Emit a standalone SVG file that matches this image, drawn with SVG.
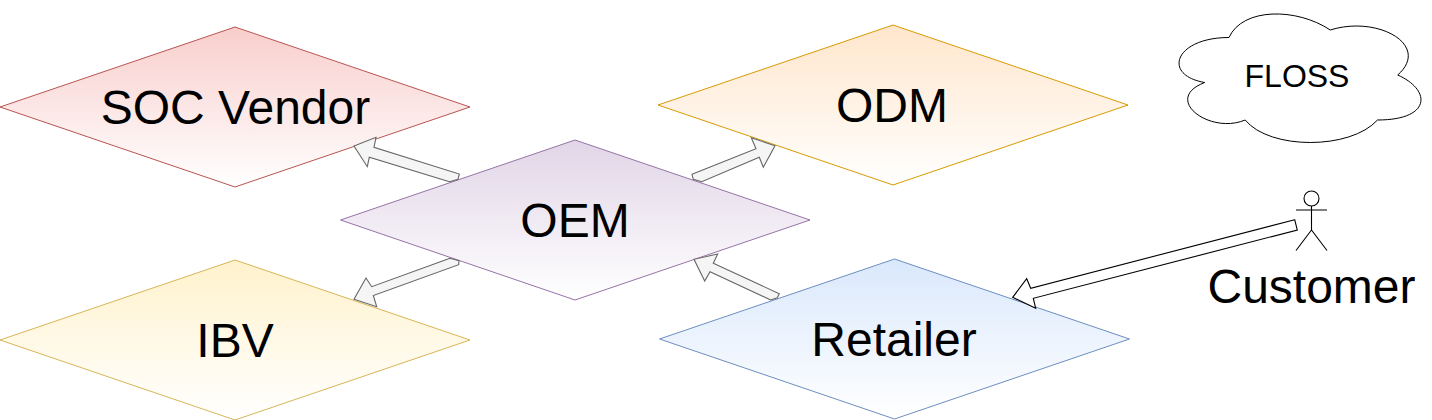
<svg xmlns="http://www.w3.org/2000/svg" width="1432" height="420" viewBox="0 0 1432 420">
<style>
text{font-family:"Liberation Sans",Arial,sans-serif;fill:#000;text-anchor:middle}
.big{font-size:48px}
.small{font-size:32px}
.node{stroke-width:1}
.arrow{fill:#f5f5f5;stroke:#666;stroke-width:1.1;stroke-linejoin:miter}
.arrowb{fill:#fff;stroke:#000;stroke-width:1.1;stroke-linejoin:miter}
.line{fill:none;stroke:#000;stroke-width:1.1}
</style>
<defs>
<linearGradient id="gr" x1="0" y1="0" x2="0" y2="1"><stop offset="0" stop-color="#f8cecc"/><stop offset="1" stop-color="#fff"/></linearGradient>
<linearGradient id="go" x1="0" y1="0" x2="0" y2="1"><stop offset="0" stop-color="#ffe6cc"/><stop offset="1" stop-color="#fff"/></linearGradient>
<linearGradient id="gp" x1="0" y1="0" x2="0" y2="1"><stop offset="0" stop-color="#e1d5e7"/><stop offset="1" stop-color="#fff"/></linearGradient>
<linearGradient id="gy" x1="0" y1="0" x2="0" y2="1"><stop offset="0" stop-color="#fff2cc"/><stop offset="1" stop-color="#fff"/></linearGradient>
<linearGradient id="gb" x1="0" y1="0" x2="0" y2="1"><stop offset="0" stop-color="#dae8fc"/><stop offset="1" stop-color="#fff"/></linearGradient>
</defs>
<g id="node-soc"><polygon class="node" points="235,27 470,107 235,187 0,107" fill="url(#gr)" stroke="#b85450"/><text class="big" x="235.500" y="124">SOC Vendor</text></g>
<g id="node-odm"><polygon class="node" points="893,25 1128,105 893,185 658,105" fill="url(#go)" stroke="#d79b00"/><text class="big" x="892" y="122">ODM</text></g>
<g id="node-oem"><polygon class="node" points="575,140 810,220 575,300 340.500,220" fill="url(#gp)" stroke="#9673a6"/><text class="big" x="575" y="237">OEM</text></g>
<g id="node-ibv"><polygon class="node" points="235,260 470,340 235,420 0,340" fill="url(#gy)" stroke="#d6b656"/><text class="big" x="235" y="357">IBV</text></g>
<g id="node-retailer"><polygon class="node" points="894.500,259 1129.500,339 894.500,419 659.500,339" fill="url(#gb)" stroke="#6c8ebf"/><text class="big" x="894" y="356">Retailer</text></g>
<g id="node-floss"><path d="M1229 37.5C1175 37.500 1161.500 75 1204.700 82.500C1161.500 99 1210 135 1245.200 120C1269.500 150 1350.500 150 1377.500 120C1431.500 120 1431.500 90 1397.750 75C1431.500 45 1377.500 15 1330.250 30C1296.500 7.500 1242.500 7.500 1229 37.500Z" fill="#fff" stroke="#000" stroke-width="1"/><text class="small" x="1297" y="87">FLOSS</text></g>
<g id="node-customer"><circle cx="1311.500" cy="198.500" r="7.500" fill="#fff" stroke="#000" stroke-width="1.100"/><path class="line" d="M1311.500 206V230M1296 210H1327M1311.500 230L1296 250.500M1311.500 230L1327 250.500"/><text class="big" x="1311.500" y="303">Customer</text></g>
<g id="connectors">
<polygon class="arrow" points="449.500,181.700 369.300,157.300 367.300,166.700 354,146 376,137.300 374,147.300 459.300,174 458,179.300"/>
<polygon class="arrow" points="692,174.300 756,148.700 751.300,137.700 775,145.700 763.300,167.300 759.300,157.300 701.700,181.700 693.300,179.300"/>
<polygon class="arrow" points="450,258.300 371.700,286.700 366,278 354,299.300 376.700,306.700 373.300,295.500 458.700,264.700 459,260.700"/>
<polygon class="arrow" points="770.700,300 710,271.700 704.700,281 694,259.300 717.700,254 713.300,263.300 779.300,293.700 777.300,297.700"/>
<polygon class="arrowb" points="1294.700,219.700 1030.700,288.300 1026.700,278.700 1012.700,297.300 1035.700,308.300 1033.300,298.300 1297.300,230"/>
</g>
</svg>
